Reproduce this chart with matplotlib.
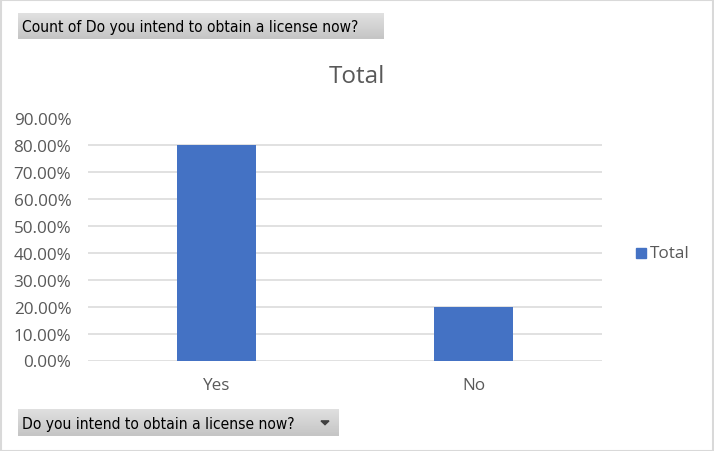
import numpy as np
import matplotlib.pyplot as plt
from matplotlib.patches import Rectangle, Polygon
from matplotlib.ticker import PercentFormatter

categories = ["Yes", "No"]
values = [0.80, 0.20]
yticks = [0.0, 0.1, 0.2, 0.3, 0.4, 0.5, 0.6, 0.7, 0.8, 0.9]

W, H = 714, 452
plt.rcParams['font.family'] = ['Open Sans', 'DejaVu Sans']

fig = plt.figure(figsize=(W / 100, H / 100), dpi=100)
fig.patch.set_facecolor('white')

# outer border of the chart area
fig.add_artist(Rectangle((0.5 / W, 0.5 / H), 1 - 1.5 / W, 1 - 1.5 / H,
                         transform=fig.transFigure, fill=False,
                         edgecolor='#d9d9d9', linewidth=1.5))


def px(x0, y0, x1, y1):
    # pixel box (top-left origin) -> figure fraction rect
    return [x0 / W, 1 - y1 / H, (x1 - x0) / W, (y1 - y0) / H]


ax = fig.add_axes(px(88, 119.5, 602, 361.5))
x = np.arange(len(categories))
ax.bar(x, values, width=0.31, color='#4472c4', zorder=3)
ax.set_xlim(-0.5, len(categories) - 0.5)
ax.set_ylim(0, 0.9)
ax.set_yticks(yticks)
ax.yaxis.set_major_formatter(PercentFormatter(1.0, decimals=2))
ax.set_xticks(x)
ax.set_xticklabels(categories)
ax.grid(axis='y', color='#d9d9d9', linewidth=1.1, zorder=0)
for s in ax.spines.values():
    s.set_visible(False)
ax.tick_params(length=0, labelsize=12.3, labelcolor='#595959')
ax.tick_params(axis='y', pad=12)
ax.tick_params(axis='x', pad=12)

# chart title
fig.text(357 / W, 1 - 77 / H, "Total", fontsize=17.5, color='#595959',
         ha='center', va='center')

# legend
fig.add_artist(Rectangle((636 / W, 1 - 259 / H), 10 / W, 10 / H,
                         transform=fig.transFigure, color='#4472c4'))
fig.text(650 / W, 1 - 254.5 / H, "Total", fontsize=12.3, color='#595959',
         va='center', ha='left')


def button(box, label, arrow=False):
    bax = fig.add_axes(px(*box))
    grad = np.linspace(0.88, 0.77, 50).reshape(-1, 1)
    bax.imshow(grad, cmap='gray', vmin=0, vmax=1, aspect='auto',
               extent=[0, 1, 0, 1])
    bax.set_xlim(0, 1)
    bax.set_ylim(0, 1)
    bax.axis('off')
    bax.text(4 / (box[2] - box[0]), 0.48, label, fontsize=11.2,
             family=['DejaVu Sans'], color='black', va='center', ha='left',
             fontstretch='condensed')
    if arrow:
        w = box[2] - box[0]
        cx = 325 - box[0]
        bax.add_patch(Polygon([[(cx - 4) / w, 0.56], [(cx + 4) / w, 0.56],
                               [cx / w, 0.42]], color='#404040'))


button((18, 14, 384, 40), "Count of Do you intend to obtain a license now?")
button((18, 410, 339, 437), "Do you intend to obtain a license now?", arrow=True)

fig.savefig("out.png", dpi=100)
